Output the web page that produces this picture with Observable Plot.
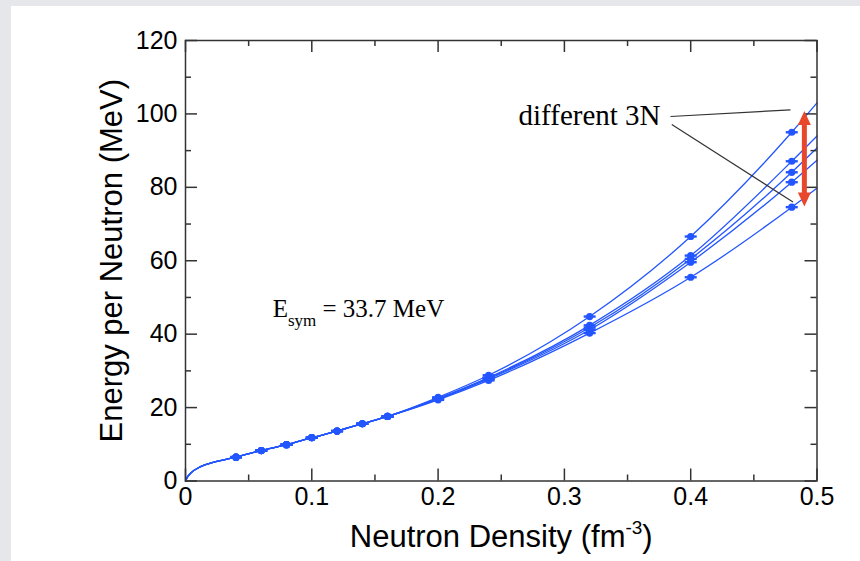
<!DOCTYPE html>
<html>
<head>
<meta charset="utf-8">
<script src="https://cdn.jsdelivr.net/npm/d3@7"></script>
<script src="https://cdn.jsdelivr.net/npm/@observablehq/plot@0.6"></script>
<style>
  html, body { margin: 0; padding: 0; }
  body { width: 860px; height: 561px; background: #e6e7ea; position: relative; overflow: hidden; }
  #panel { position: absolute; left: 11px; top: 6px; width: 849px; height: 555px; background: #ffffff; }
  #chart { position: absolute; left: 0; top: 0; }
</style>
</head>
<body>
<div id="panel"></div>
<div id="chart"></div>
<script>
// ---- data ----
const density = [0, 0.002, 0.004, 0.012, 0.022, 0.04, 0.06, 0.08, 0.1, 0.12, 0.14, 0.16, 0.2, 0.24, 0.32, 0.4, 0.48, 0.5];
const lowDensityEnergy = [0, 1.3, 2.1, 3.9, 5.1, 6.5, 8.3, 9.9, 11.8, 13.6, 15.6, 17.6];
const seriesA = [22.8, 28.8, 44.8, 66.6, 95.0, 103.0];
const seriesB = [22.5, 28.2, 42.4, 61.4, 87.1, 94.0];
const seriesC = [22.4, 28.0, 41.8, 60.5, 84.1, 90.7];
const seriesD = [22.3, 27.8, 41.2, 59.6, 81.4, 87.4];
const seriesE = [22.1, 27.4, 40.3, 55.5, 74.6, 79.8];
const markerRange = [0.04, 0.48];

const xMajor = [0, 0.1, 0.2, 0.3, 0.4, 0.5];
const xMinor = [0.05, 0.15, 0.25, 0.35, 0.45];
const yMajor = [0, 20, 40, 60, 80, 100, 120];
const yMinor = [10, 30, 50, 70, 90, 110];

const yLabel = "Energy per Neutron (MeV)";
const xLabelMain = "Neutron Density (fm";
const xLabelSup = "-3";
const xLabelEnd = ")";
const esymMain = "E";
const esymSub = "sym";
const esymRest = " = 33.7 MeV";
const esymPos = {x: 0.069, y: 46.8};
const threeNText = "different 3N";
const threeNPos = {x: 0.2637, y: 99.6};
const pointerLines = [
  {x1: 0.384, y1: 99.3, x2: 0.479, y2: 101.1},
  {x1: 0.385, y1: 97.1, x2: 0.481, y2: 76.0}
];
const rangeArrow = {x: 0.490, top: 100.8, bottom: 74.8};

// ---- build table ----
const seriesList = {A: seriesA, B: seriesB, C: seriesC, D: seriesD, E: seriesE};
const rows = [];
for (const [name, hi] of Object.entries(seriesList)) {
  const values = lowDensityEnergy.concat(hi);
  density.forEach((n, i) => rows.push({series: name, n, e: values[i]}));
}
const markers = rows.filter(d => d.n >= markerRange[0] && d.n <= markerRange[1]);

// ---- styles ----
const blue = "#2356ff";
const red = "#e8472b";
const W = 860, H = 561;
const mL = 185, mR = 43.5, mT = 40, mB = 80.5;
const plotH = H - mT - mB, plotW = W - mL - mR;
const majorLen = 12, minorLen = 6;
const serif = "'Liberation Serif', 'Times New Roman', serif";

const barSymbol = {draw(ctx) { ctx.moveTo(-6, 0); ctx.lineTo(6, 0); }};
const headSymbol = {draw(ctx) { ctx.moveTo(0, 0); ctx.lineTo(-6.5, 14); ctx.lineTo(6.5, 14); ctx.closePath(); }};

const svg = Plot.plot({
  width: W, height: H,
  marginLeft: mL, marginRight: mR, marginTop: mT, marginBottom: mB,
  style: {background: "transparent", fontFamily: "'Liberation Sans', Arial, sans-serif", color: "#000"},
  x: {domain: [0, 0.5]},
  y: {domain: [0, 120]},
  marks: [
    // curves
    Plot.line(rows, {x: "n", y: "e", z: "series", stroke: blue, strokeWidth: 1.3, curve: "monotone-x"}),
    Plot.dot(markers, {x: "n", y: "e", r: 3.6, fill: blue}),
    Plot.dot(markers, {x: "n", y: "e", symbol: barSymbol, fill: "none", stroke: blue, strokeWidth: 2.4}),
    // frame & inward ticks
    Plot.frame({stroke: "#333", strokeWidth: 1.5}),
    Plot.ruleX(xMajor, {insetTop: plotH - majorLen, stroke: "#333", strokeWidth: 1.5}),
    Plot.ruleX(xMinor, {insetTop: plotH - minorLen, stroke: "#333", strokeWidth: 1.5}),
    Plot.ruleX(xMajor, {insetBottom: plotH - majorLen, stroke: "#333", strokeWidth: 1.5}),
    Plot.ruleX(xMinor, {insetBottom: plotH - minorLen, stroke: "#333", strokeWidth: 1.5}),
    Plot.ruleY(yMajor, {insetRight: plotW - majorLen, stroke: "#333", strokeWidth: 1.5}),
    Plot.ruleY(yMinor, {insetRight: plotW - minorLen, stroke: "#333", strokeWidth: 1.5}),
    Plot.ruleY(yMajor, {insetLeft: plotW - majorLen, stroke: "#333", strokeWidth: 1.5}),
    Plot.ruleY(yMinor, {insetLeft: plotW - minorLen, stroke: "#333", strokeWidth: 1.5}),
    // tick labels
    Plot.axisX({ticks: xMajor, tickSize: 0, tickPadding: 6, fontSize: 25, label: null, tickFormat: d => String(d)}),
    Plot.axisY({ticks: yMajor, tickSize: 0, tickPadding: 8, fontSize: 25, label: null, tickFormat: d => String(d)}),
    // axis titles
    Plot.text([yLabel], {text: d => d, frameAnchor: "left", textAnchor: "middle", lineAnchor: "middle", dx: -73, rotate: -90, fontSize: 31, fill: "#000"}),
    Plot.text([xLabelMain + xLabelSup + xLabelEnd], {text: d => d, frameAnchor: "bottom", textAnchor: "middle", lineAnchor: "middle", dy: 56, fontSize: 31, fill: "#000"}),
    // annotations
    Plot.text([esymPos], {x: "x", y: "y", text: () => esymMain + esymSub + esymRest, textAnchor: "start", lineAnchor: "middle", fontSize: 25, fontFamily: serif, fill: "#000"}),
    Plot.text([threeNPos], {x: "x", y: "y", text: () => threeNText, textAnchor: "start", lineAnchor: "middle", fontSize: 29, fontFamily: serif, fill: "#000"}),
    Plot.link(pointerLines, {x1: "x1", y1: "y1", x2: "x2", y2: "y2", stroke: "#333", strokeWidth: 1.2}),
    Plot.ruleX([rangeArrow], {x: "x", y1: "top", y2: "bottom", stroke: red, strokeWidth: 5, insetTop: 10, insetBottom: 10}),
    Plot.dot([rangeArrow], {x: "x", y: "top", symbol: headSymbol, fill: red, stroke: "none"}),
    Plot.dot([rangeArrow], {x: "x", y: "bottom", symbol: headSymbol, rotate: 180, fill: red, stroke: "none"})
  ]
});

// rich text: superscript and subscript
const root = d3.select(svg);
root.selectAll("text").filter(function() { return this.textContent === xLabelMain + xLabelSup + xLabelEnd; })
  .each(function() {
    const t = d3.select(this); t.text(null);
    t.append("tspan").text(xLabelMain);
    t.append("tspan").attr("dy", -13).attr("font-size", 19).text(xLabelSup);
    t.append("tspan").attr("dy", 13).text(xLabelEnd);
  });
root.selectAll("text").filter(function() { return this.textContent === esymMain + esymSub + esymRest; })
  .each(function() {
    const t = d3.select(this); t.text(null);
    t.append("tspan").text(esymMain);
    t.append("tspan").attr("dy", 9).attr("font-size", 17).text(esymSub);
    t.append("tspan").attr("dy", -9).text(esymRest);
  });

document.getElementById("chart").appendChild(svg);
</script>
</body>
</html>
